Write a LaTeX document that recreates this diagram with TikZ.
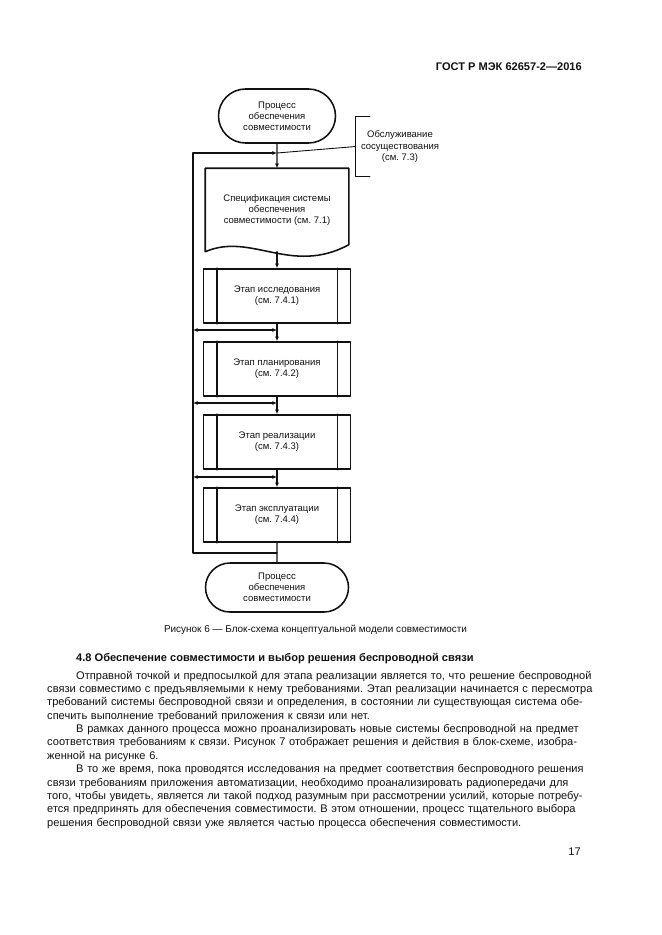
\documentclass[tikz,border=0pt]{standalone}
\usepackage{fontspec}
\setmainfont{Liberation Sans}
\usepackage{xcolor}
\usepackage{tikz}
\usetikzlibrary{arrows.meta,calc,positioning,shapes.misc}
\definecolor{fcInk}{HTML}{111111}
\frenchspacing
\newlength\pxu \setlength\pxu{0.3177mm}
\newlength\bodyw \setlength\bodyw{539\pxu}
\newlength\bodyind \setlength\bodyind{29\pxu}
\newcommand\fullline[1]{\makebox[\bodyw][s]{#1}\\}
\newcommand\firstline[1]{\hspace*{\bodyind}\makebox[\dimexpr\bodyw-\bodyind\relax][s]{#1}\\}
\tikzset{
  fc diagram/.style={text=fcInk, line cap=round, line join=round},
  fc shape/.style={draw=fcInk, line width=1.4pt, inner sep=0pt, align=center,
    font=\fontsize{8.6}{10}\selectfont},
  fc term/.style={fc shape, rounded rectangle},
  fc doc/.style={fc shape, draw=none, minimum width=142\pxu, minimum height=82\pxu},
  fc stage/.style={fc shape, rectangle, minimum width=147\pxu, minimum height=54\pxu},
  fc note/.style={inner sep=0pt, align=center, font=\fontsize{8.6}{10}\selectfont,
    minimum width=88\pxu, minimum height=59\pxu},
  fc outline/.style={draw=fcInk, line width=1.4pt},
  fc line/.style={draw=fcInk, line width=1.2pt},
  fc lead/.style={draw=fcInk, line width=0.8pt},
  fc arrow/.style={-{Latex[length=1.5mm,width=1.3mm]}, fc line},
  fc both/.style={{Latex[length=1.5mm,width=1.3mm]}-{Latex[length=1.5mm,width=1.3mm]}, fc line},
  fc body/.style={inner sep=0pt, text width=\bodyw, align=left, anchor=base west,
    font=\fontsize{10}{12.1}\selectfont},
  fc text/.style={inner sep=0pt, font=\fontsize{10}{12.1}\selectfont},
  fc caption/.style={inner sep=0pt, anchor=base, font=\fontsize{9}{11}\selectfont}
}
\begin{document}
\begin{tikzpicture}[fc diagram,x=0.3177mm,y=-0.3177mm]
\useasboundingbox (0,0) rectangle (661,935);
\node[fc text,anchor=base east,font=\fontsize{10}{12}\selectfont\bfseries] (header) at (582,71) {ГОСТ Р МЭК 62657-2—2016};
% flowchart
\node[fc term,minimum width=117\pxu,minimum height=54\pxu] (start) at (277,116) {Процесс\\обеспечения\\совместимости};
\node[fc doc] (spec) at (277,210) {Спецификация системы\\обеспечения\\совместимости (см.~7.1)};
\draw[fc outline] (spec.south west) -- (spec.north west) -- (spec.north east)
  -- ($(spec.south east)+(0,-7)$) .. controls ($(spec.south)+(14,24)$) and ($(spec.south)+(-26,-20)$) .. (spec.south west) -- cycle;
\foreach \name/\yc/\txt in {explore/296/{Этап исследования\\(см.~7.4.1)},
  plan/369/{Этап планирования\\(см.~7.4.2)},
  build/442/{Этап реализации\\(см.~7.4.3)},
  operate/515/{Этап эксплуатации\\(см.~7.4.4)}}{
  \node[fc stage] (\name) at (277,\yc) {\txt};
  \draw[fc outline] ($(\name.north west)+(14,0)$) -- ($(\name.south west)+(14,0)$);
  \draw[fc outline] ($(\name.north east)+(-14,0)$) -- ($(\name.south east)+(-14,0)$);
}
\node[fc term,minimum width=143\pxu,minimum height=49\pxu] (stop) at (277,587.5) {Процесс\\обеспечения\\совместимости};
\node[fc note] (coexist) at (400,146.5) {Обслуживание\\сосуществования\\(см.~7.3)};
\draw[fc line] ($(coexist.north west)+(14,0)$) -- (coexist.north west) -- (coexist.south west) -- ++(14,0);
% connectors
\coordinate (top join) at (277,153);
\coordinate (loop foot) at (277,553);
\draw[fc arrow] (start) -- (spec);
\draw[fc arrow] (spec.south) -- (explore);
\foreach \a/\b in {explore/plan,plan/build,build/operate}
  \draw[fc arrow] (\a) -- (\b);
\draw[fc line] (operate) -- (stop);
\draw[fc arrow] (loop foot) -- ++(-84,0) |- (top join);
\foreach \name/\yy in {explore/330,plan/403,build/477}{
  \coordinate (\name back) at (193,\yy);
  \draw[fc both] (\name back) -- (\name back -| \name);
}
\draw[fc lead] (coexist.west) -- (top join);
\node[fc caption] (caption) at (315.5,632) {Рисунок 6 — Блок-схема концептуальной модели совместимости};
% text
\node[fc text,anchor=base west,font=\fontsize{10}{12}\selectfont\bfseries] (heading) at (76,661) {4.8 Обеспечение совместимости и выбор решения беспроводной связи};
\node[fc body] (para one) at (47,679) {%
\firstline{Отправной точкой и предпосылкой для этапа реализации является то, что решение беспроводной}
\fullline{связи совместимо с предъявляемыми к нему требованиями. Этап реализации начинается с пересмотра}
\fullline{требований системы беспроводной связи и определения, в состоянии ли существующая система обе-}
спечить выполнение требований приложения к связи или нет.};
\node[fc body] (para two) at (47,732.6) {%
\firstline{В рамках данного процесса можно проанализировать новые системы беспроводной на предмет}
\fullline{соответствия требованиям к связи. Рисунок 7 отображает решения и действия в блок-схеме, изобра-}
женной на рисунке 6.};
\node[fc body] (para three) at (47,772.8) {%
\firstline{В то же время, пока проводятся исследования на предмет соответствия беспроводного решения}
\fullline{связи требованиям приложения автоматизации, необходимо проанализировать радиопередачи для}
\fullline{того, чтобы увидеть, является ли такой подход разумным при рассмотрении усилий, которые потребу-}
\fullline{ется предпринять для обеспечения совместимости. В этом отношении, процесс тщательного выбора}
решения беспроводной связи уже является частью процесса обеспечения совместимости.};
\node[fc text,anchor=base east] (page no) at (581,855) {17};
\end{tikzpicture}
\end{document}
